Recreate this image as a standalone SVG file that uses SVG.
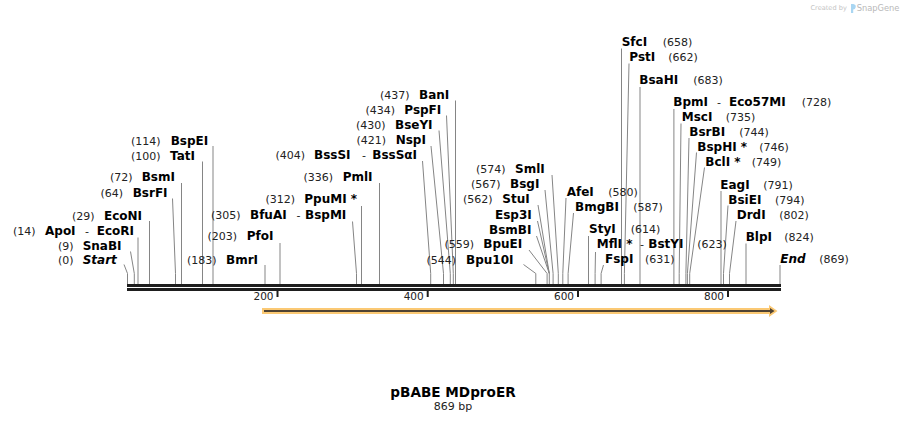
<svg xmlns="http://www.w3.org/2000/svg" width="908" height="423" viewBox="0 0 908 423">
<style>
.nm{font-family:"DejaVu Sans",Verdana,sans-serif;font-weight:bold;font-size:12px;fill:#000}
.it{font-style:italic}
.nu{font-family:"DejaVu Sans",Verdana,sans-serif;font-size:11px;fill:#222}
.e{text-anchor:end}
.hy{font-family:"DejaVu Sans",Verdana,sans-serif;font-size:11px;fill:#222;text-anchor:middle}
.ld{fill:none;stroke:#858585;stroke-width:1}
.bb{fill:#1e1e1e}
.tk{font-family:"DejaVu Sans",Verdana,sans-serif;font-size:10.5px;fill:#222;text-anchor:end}
</style>
<rect width="908" height="423" fill="#fff"/>
<g id="watermark">
<text x="810.5" y="10" style="font-family:'DejaVu Sans',sans-serif;font-size:6.6px;fill:#c4c4c4">Created by</text>
<path d="M851,4 h2.2 v9 h-2.2 z M853.2,4 q3,0.5 2.5,3.2 q-0.5,2.2 -2.5,2.3 z" fill="#a9d6f2"/>
<text x="856.7" y="10.5" style="font-family:'DejaVu Sans',sans-serif;font-size:8.3px;fill:#b9b9b9">SnapGene</text>
</g>
<g id="connectors">
<polyline class="ld" points="124,264.5 127.5,273.5 127.5,284"/>
<polyline class="ld" points="130.5,251.5 134.3,273.5 134.3,284"/>
<polyline class="ld" points="138,237.5 138,284"/>
<polyline class="ld" points="149.5,221 149.5,284"/>
<polyline class="ld" points="172.5,198.5 175.5,273.5 175.5,284"/>
<polyline class="ld" points="181.5,183 181.5,284"/>
<polyline class="ld" points="202.5,161.5 202.5,284"/>
<polyline class="ld" points="213,146 213,284"/>
<polyline class="ld" points="265,265 265,284"/>
<polyline class="ld" points="280,243 280,284"/>
<polyline class="ld" points="352.5,221.5 356.5,273.5 356.5,284"/>
<polyline class="ld" points="361.5,206 361.5,284"/>
<polyline class="ld" points="379.5,183 379.5,284"/>
<polyline class="ld" points="422.5,161 430.7,273.5 430.7,284"/>
<polyline class="ld" points="431,146 443.5,273.5 443.5,284"/>
<polyline class="ld" points="439,130.5 450.3,273.5 450.3,284"/>
<polyline class="ld" points="446.5,115.5 453.3,273.5 453.3,284"/>
<polyline class="ld" points="455.5,100.5 455.5,284"/>
<polyline class="ld" points="523.5,264.5 535.8,273.5 535.8,284"/>
<polyline class="ld" points="529,250 547.1,273.5 547.1,284"/>
<polyline class="ld" points="536.5,236 549.3,273.5 549.3,284"/>
<polyline class="ld" points="537.5,221 549.3,273.5"/>
<polyline class="ld" points="538,205 549.3,273.5"/>
<polyline class="ld" points="545,190 553.1,273.5 553.1,284"/>
<polyline class="ld" points="552,175 558.3,273.5 558.3,284"/>
<polyline class="ld" points="566,198 562.8,273.5 562.8,284"/>
<polyline class="ld" points="573.5,213 568.1,273.5 568.1,284"/>
<polyline class="ld" points="588.5,236 588.5,284"/>
<polyline class="ld" points="595.5,252 595.1,273.5 595.1,284"/>
<polyline class="ld" points="603.5,265 601.1,273.5 601.1,284"/>
<polyline class="ld" points="621.5,48.5 621.5,284"/>
<polyline class="ld" points="629,63.5 624.4,273.5 624.4,284"/>
<polyline class="ld" points="640,87 640,284"/>
<polyline class="ld" points="673.9,109 673.9,284"/>
<polyline class="ld" points="681,123.5 679.2,273.5 679.2,284"/>
<polyline class="ld" points="689,138 685.9,273.5 685.9,284"/>
<polyline class="ld" points="696.5,152.5 687.4,273.5 687.4,284"/>
<polyline class="ld" points="704.5,167.5 689.7,273.5 689.7,284"/>
<polyline class="ld" points="721,191 721,284"/>
<polyline class="ld" points="728,205.5 723.5,273.5 723.5,284"/>
<polyline class="ld" points="736,221 729.5,273.5 729.5,284"/>
<polyline class="ld" points="746,243.5 746,284"/>
<polyline class="ld" points="780,265 780,284"/>
</g>
<g id="backbone">
<rect class="bb" x="127" y="284" width="654" height="3"/>
<rect class="bb" x="127" y="288" width="654" height="3"/>
<rect class="bb" x="276.5" y="291" width="2" height="6"/>
<rect class="bb" x="426.7" y="291" width="2" height="6"/>
<rect class="bb" x="577" y="291" width="2" height="6"/>
<rect class="bb" x="727" y="291" width="2" height="6"/>
<text class="tk" x="273.5" y="300">200</text>
<text class="tk" x="423.7" y="300">400</text>
<text class="tk" x="574" y="300">600</text>
<text class="tk" x="724" y="300">800</text>
</g>
<g id="feature-arrow">
<path d="M262,308 H769 V305 L777.5,311 L769,317 V314 H262 Z" fill="#fbc974"/>
<path d="M264,310 H770 V308 L774.5,311 L770,314 V312 H264 Z" fill="#4f4232"/>
</g>
<g id="site-Start"><text class="nu e" x="73.5" y="263.5">(0)</text><text class="nm it" x="82.7" y="263.5">Start</text></g>
<g id="site-SnaBI"><text class="nu e" x="73.5" y="249.5">(9)</text><text class="nm" x="82.7" y="249.5">SnaBI</text></g>
<g id="site-ApoI"><text class="nu e" x="35.5" y="235">(14)</text><text class="nm" x="45" y="235">ApoI</text><text class="hy" x="87" y="235">-</text><text class="nm" x="96.8" y="235">EcoRI</text></g>
<g id="site-EcoNI"><text class="nu e" x="94.5" y="219.5">(29)</text><text class="nm" x="104" y="219.5">EcoNI</text></g>
<g id="site-BsrFI"><text class="nu e" x="123" y="196.7">(64)</text><text class="nm" x="132.7" y="196.7">BsrFI</text></g>
<g id="site-BsmI"><text class="nu e" x="132.5" y="181">(72)</text><text class="nm" x="141.7" y="181">BsmI</text></g>
<g id="site-TatI"><text class="nu e" x="160.5" y="160">(100)</text><text class="nm" x="170" y="160">TatI</text></g>
<g id="site-BspEI"><text class="nu e" x="160.5" y="145">(114)</text><text class="nm" x="170.7" y="145">BspEI</text></g>
<g id="site-BmrI"><text class="nu e" x="216.5" y="263.5">(183)</text><text class="nm" x="226" y="263.5">BmrI</text></g>
<g id="site-PfoI"><text class="nu e" x="237" y="240">(203)</text><text class="nm" x="246.7" y="240">PfoI</text></g>
<g id="site-BfuAI"><text class="nu e" x="240.5" y="219.3">(305)</text><text class="nm" x="250" y="219.3">BfuAI</text><text class="hy" x="298.5" y="219.3">-</text><text class="nm" x="305" y="219.3">BspMI</text></g>
<g id="site-PpuMI"><text class="nu e" x="295" y="203.3">(312)</text><text class="nm" x="304.3" y="203.3">PpuMI *</text></g>
<g id="site-PmlI"><text class="nu e" x="333" y="181">(336)</text><text class="nm" x="342.7" y="181">PmlI</text></g>
<g id="site-BssSI"><text class="nu e" x="305" y="159.3">(404)</text><text class="nm" x="314" y="159.3">BssSI</text><text class="hy" x="364" y="159.3">-</text><text class="nm" x="372.3" y="159.3">BssSαI</text></g>
<g id="site-NspI"><text class="nu e" x="386" y="144.3">(421)</text><text class="nm" x="395.7" y="144.3">NspI</text></g>
<g id="site-BseYI"><text class="nu e" x="385.5" y="129.3">(430)</text><text class="nm" x="395" y="129.3">BseYI</text></g>
<g id="site-PspFI"><text class="nu e" x="395" y="114">(434)</text><text class="nm" x="404.3" y="114">PspFI</text></g>
<g id="site-BanI"><text class="nu e" x="409.5" y="99">(437)</text><text class="nm" x="419" y="99">BanI</text></g>
<g id="site-Bpu10I"><text class="nu e" x="456" y="263.5">(544)</text><text class="nm" x="466" y="263.5">Bpu10I</text></g>
<g id="site-BpuEI"><text class="nu e" x="474" y="248.3">(559)</text><text class="nm" x="483.3" y="248.3">BpuEI</text></g>
<g id="site-BsmBI"><text class="nm" x="489" y="234">BsmBI</text></g>
<g id="site-Esp3I"><text class="nm" x="495" y="219">Esp3I</text></g>
<g id="site-StuI"><text class="nu e" x="492.5" y="203.3">(562)</text><text class="nm" x="502.3" y="203.3">StuI</text></g>
<g id="site-BsgI"><text class="nu e" x="500.5" y="188.3">(567)</text><text class="nm" x="510" y="188.3">BsgI</text></g>
<g id="site-SmlI"><text class="nu e" x="505.5" y="173.3">(574)</text><text class="nm" x="515" y="173.3">SmlI</text></g>
<g id="site-AfeI"><text class="nm" x="566.7" y="195.7">AfeI</text><text class="nu" x="608.3" y="195.7">(580)</text></g>
<g id="site-BmgBI"><text class="nm" x="575" y="211">BmgBI</text><text class="nu" x="633.3" y="211">(587)</text></g>
<g id="site-StyI"><text class="nm" x="589" y="233.3">StyI</text><text class="nu" x="630.7" y="233.3">(614)</text></g>
<g id="site-MflI"><text class="nm" x="596.7" y="248.3">MflI *</text><text class="hy" x="642" y="248.3">-</text><text class="nm" x="648.3" y="248.3">BstYI</text><text class="nu" x="697.3" y="248.3">(623)</text></g>
<g id="site-FspI"><text class="nm" x="605" y="263.3">FspI</text><text class="nu" x="645" y="263.3">(631)</text></g>
<g id="site-SfcI"><text class="nm" x="621.7" y="46">SfcI</text><text class="nu" x="662.7" y="46">(658)</text></g>
<g id="site-PstI"><text class="nm" x="629.3" y="61">PstI</text><text class="nu" x="668.3" y="61">(662)</text></g>
<g id="site-BsaHI"><text class="nm" x="639.3" y="84">BsaHI</text><text class="nu" x="693.3" y="84">(683)</text></g>
<g id="site-BpmI"><text class="nm" x="673.3" y="106">BpmI</text><text class="hy" x="719" y="106">-</text><text class="nm" x="729" y="106">Eco57MI</text><text class="nu" x="801.7" y="106">(728)</text></g>
<g id="site-MscI"><text class="nm" x="681.7" y="121">MscI</text><text class="nu" x="725.7" y="121">(735)</text></g>
<g id="site-BsrBI"><text class="nm" x="689.3" y="136">BsrBI</text><text class="nu" x="739.3" y="136">(744)</text></g>
<g id="site-BspHI"><text class="nm" x="697.3" y="151">BspHI *</text><text class="nu" x="759.3" y="151">(746)</text></g>
<g id="site-BclI"><text class="nm" x="705.3" y="166">BclI *</text><text class="nu" x="751.7" y="166">(749)</text></g>
<g id="site-EagI"><text class="nm" x="720.3" y="189">EagI</text><text class="nu" x="763.3" y="189">(791)</text></g>
<g id="site-BsiEI"><text class="nm" x="728.3" y="204">BsiEI</text><text class="nu" x="775" y="204">(794)</text></g>
<g id="site-DrdI"><text class="nm" x="736.7" y="219">DrdI</text><text class="nu" x="779.3" y="219">(802)</text></g>
<g id="site-BlpI"><text class="nm" x="745.7" y="241">BlpI</text><text class="nu" x="784.3" y="241">(824)</text></g>
<g id="site-End"><text class="nm it" x="780.3" y="263.3">End</text><text class="nu" x="819.3" y="263.3">(869)</text></g>
<g id="title">
<text x="453" y="396.7" style="font-family:'DejaVu Sans',Verdana,sans-serif;font-weight:bold;font-size:13.6px;fill:#000;text-anchor:middle">pBABE MDproER</text>
<text x="453" y="410" style="font-family:'DejaVu Sans',Verdana,sans-serif;font-size:11px;fill:#222;text-anchor:middle">869 bp</text>
</g>
</svg>
